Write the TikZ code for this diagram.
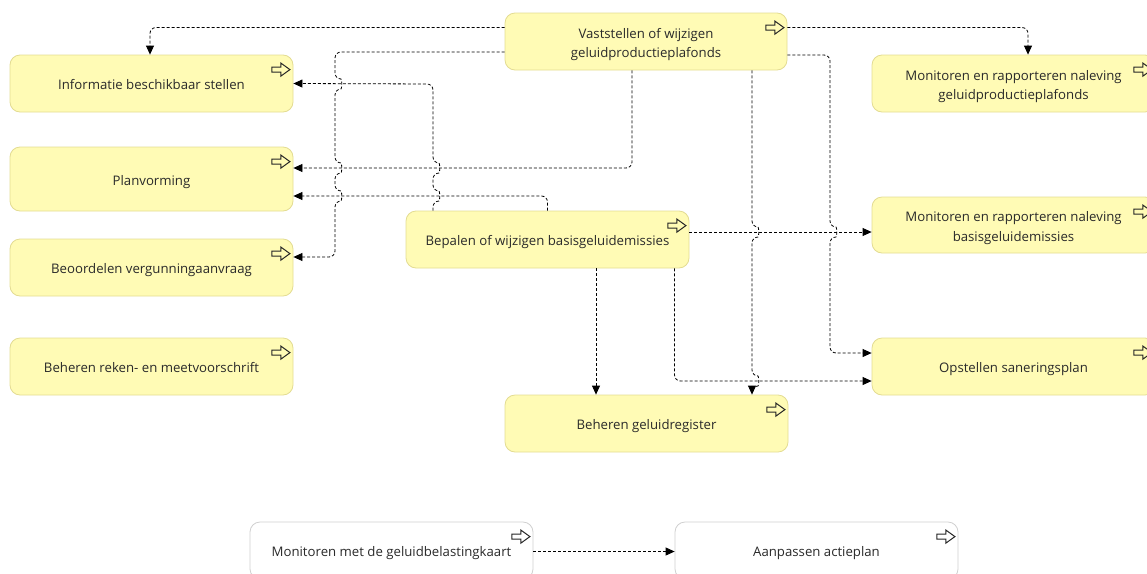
\documentclass[tikz,border=0pt]{standalone}
\usepackage{fontspec}
\setmainfont{Open Sans}
\usetikzlibrary{arrows.meta,calc}
\definecolor{boxfill}{HTML}{FFFBB5}
\definecolor{boxline}{HTML}{E3DC92}
\definecolor{txt}{HTML}{2A2A2A}
\definecolor{wline}{HTML}{D0D0D0}
\newcommand{\boxtext}[1]{\raisebox{-2.5pt}[\height][\depth]{\begin{tabular}{@{}c@{}}#1\end{tabular}}}
\tikzset{
  proc/.style={draw=boxline, fill=boxfill, line width=0.8pt, rounded corners=10pt,
    minimum width=283pt, minimum height=57pt, inner sep=0pt, align=center,
    text=txt, font=\fontsize{13.2}{19.5}\selectfont},
  wproc/.style={proc, draw=wline, fill=white},
  conn/.style={draw=black, line width=0.8pt, dash pattern=on 3pt off 2pt,
    rounded corners=6pt, -{Triangle[length=9pt,width=8pt]}},
  jd/.style 2 args={insert path={-- (#1,#2-5) .. controls (#1+7,#2-5) and (#1+7,#2+5) .. (#1,#2+5)}},
  ju/.style 2 args={insert path={-- (#1,#2+5) .. controls (#1+7,#2+5) and (#1+7,#2-5) .. (#1,#2-5)}},
  svc/.pic={\draw[line width=1pt, draw=black!85, fill=none]
    (-9,-2.5) -- (0,-2.5) -- (0,-6.5) -- (9,0) -- (0,6.5) -- (0,2.5) -- (-9,2.5) -- cycle;}
}
\begin{document}
\begin{tikzpicture}[x=1pt,y=-1pt]
\useasboundingbox (0,0) rectangle (1147,573);
\clip (0,0) rectangle (1147,573);

% nodes
\node[proc] (info)   at (151.5,83.5)  {\boxtext{Informatie beschikbaar stellen}};
\node[proc, minimum height=64pt] (plan) at (151.5,179) {\boxtext{Planvorming}};
\node[proc] (beoord) at (151.5,267.5) {\boxtext{Beoordelen vergunningaanvraag}};
\node[proc] (reken)  at (151.5,366.5) {\boxtext{Beheren reken- en meetvoorschrift}};
\node[proc, minimum width=282pt] (vast) at (646,41.5) {\boxtext{Vaststellen of wijzigen\\geluidproductieplafonds}};
\node[proc] (monplaf)  at (1013.5,83.5) {\boxtext{Monitoren en rapporteren naleving\\geluidproductieplafonds}};
\node[proc, minimum height=56pt] (monbasis) at (1013.5,225) {\boxtext{Monitoren en rapporteren naleving\\basisgeluidemissies}};
\node[proc] (opst)   at (1013.5,366.5) {\boxtext{Opstellen saneringsplan}};
\node[proc] (bepalen) at (547.5,239.5) {\boxtext{Bepalen of wijzigen basisgeluidemissies}};
\node[proc] (gelreg) at (646.5,423.5) {\boxtext{Beheren geluidregister}};
\node[wproc] (monkaart) at (391.5,550.5) {\boxtext{Monitoren met de geluidbelastingkaart}};
\node[wproc] (actie) at (816.5,550.5) {\boxtext{Aanpassen actieplan}};

% icons
\foreach \n in {info,plan,beoord,reken,vast,monplaf,monbasis,opst,bepalen,gelreg,monkaart,actie}
  \pic at ([xshift=-12.5pt,yshift=-15pt]\n.north east) {svc};

% connectors
\draw[conn] ([yshift=14pt]vast.west) -| ([xshift=-1.5pt]info.north);
\draw[conn] ([yshift=-10.5pt]vast.west) -- (335,52) [jd={335}{84}] [jd={335}{168}] [jd={335}{196}]
  -- (335,257) -- ([yshift=10.5pt]beoord.east);
\draw[conn] ([xshift=-114.5pt]bepalen.north) [ju={433}{196}] [ju={433}{168}] -- (433,84) -- (info.east);
\draw[conn] ([xshift=-14pt]vast.south) -- (632,168) -- ([yshift=11pt]plan.east);
\draw[conn] (bepalen.north) -- (547.5,196) -- ([yshift=-17pt]plan.east);
\draw[conn] ([yshift=7.5pt]bepalen.east) -- ([yshift=-7pt]monbasis.west);
\draw[conn] ([yshift=14pt]vast.east) -| ([xshift=14.5pt]monplaf.north);
\draw[conn] ([yshift=-13.5pt]vast.east) -- (830,55) [jd={830}{232}] -- (830,353) -- ([yshift=13.5pt]opst.west);
\draw[conn] ([xshift=106pt]vast.south) [jd={752}{232}] [jd={752}{381}] -- ([xshift=105.5pt]gelreg.north);
\draw[conn] ([xshift=48.5pt]bepalen.south) -- ([xshift=-50.5pt]gelreg.north);
\draw[conn] ([xshift=127pt]bepalen.south) -- (674.5,381) -- ([yshift=-14.5pt]opst.west);
\draw[conn] ([yshift=-1pt]monkaart.east) -- ([yshift=-1pt]actie.west);
\end{tikzpicture}
\end{document}
